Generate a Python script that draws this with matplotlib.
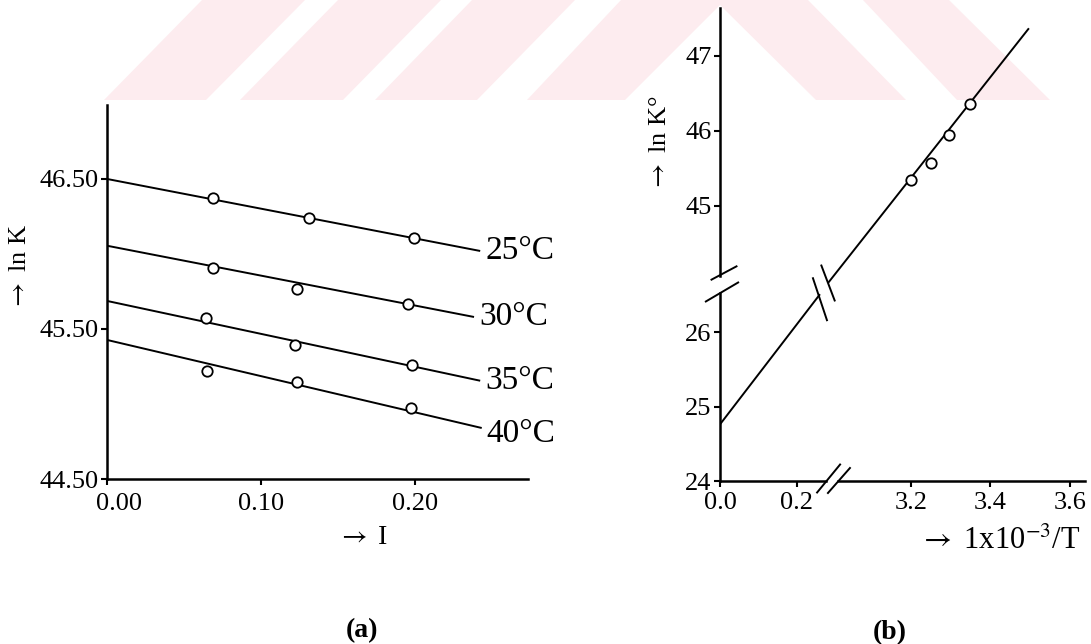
import matplotlib
matplotlib.use("Agg")
import matplotlib.pyplot as plt
import matplotlib.transforms as mtransforms
from matplotlib.patches import Polygon
from matplotlib.lines import Line2D

plt.rcParams['font.family'] = ['Liberation Serif', 'DejaVu Serif']
plt.rcParams['mathtext.fontset'] = 'stix'

# ---------------- data: panel (a) ----------------
temps_labels = ["25°C", "30°C", "35°C", "40°C"]
I_25 = [0.069, 0.131, 0.199]
lnK_25 = [46.37, 46.24, 46.107]
I_30 = [0.069, 0.123, 0.195]
lnK_30 = [45.905, 45.765, 45.667]
I_35 = [0.064, 0.122, 0.198]
lnK_35 = [45.571, 45.393, 45.26]
I_40 = [0.065, 0.123, 0.197]
lnK_40 = [45.222, 45.149, 44.971]
# fitted straight lines (start, end)
fit_I_25 = [0.0, 0.242]
fit_lnK_25 = [46.50, 46.02]
fit_I_30 = [0.0, 0.238]
fit_lnK_30 = [46.055, 45.58]
fit_I_35 = [0.0, 0.242]
fit_lnK_35 = [45.687, 45.155]
fit_I_40 = [0.0, 0.243]
fit_lnK_40 = [45.427, 44.84]
a_xticks = [0.0, 0.10, 0.20]
a_xticklabels = ["0.00", "0.10", "0.20"]
a_yticks = [44.50, 45.50, 46.50]
a_yticklabels = ["44.50", "45.50", "46.50"]

# ---------------- data: panel (b) ----------------
invT = [3.20, 3.25, 3.296, 3.348]
lnK0 = [45.343, 45.573, 45.943, 46.365]
line_low_x = [0.0, 0.261]
line_low_y = [24.76, 26.507]
line_up_x = [2.991, 3.497]
line_up_y = [43.967, 47.37]
b_low_xticks = [0.0, 0.2]
b_low_xticklabels = ["0.0", "0.2"]
b_low_yticks = [24, 25, 26]
b_up_xticks = [3.2, 3.4, 3.6]
b_up_xticklabels = ["3.2", "3.4", "3.6"]
b_up_yticks = [45, 46, 47]

W, H = 1091, 644
fig = plt.figure(figsize=(W / 100, H / 100), dpi=100)
fig.patch.set_facecolor('white')

def px_rect(x0, y_top, x1, y_bot):
    return [x0 / W, 1 - y_bot / H, (x1 - x0) / W, (y_bot - y_top) / H]

# ---------------- watermark (decoration) ----------------
wm_color = '#fdecef'
wm_shapes = [
    [(104, 100), (206, 100), (305, 0), (202, 0)],
    [(240, 100), (343, 100), (441, 0), (338, 0)],
    [(375, 100), (477, 100), (575, 0), (472, 0)],
    [(527, 100), (621, 0), (808, 0), (906, 100), (816, 100), (720, 5), (625, 100)],
    [(863, 0), (949, 0), (1050, 100), (957, 100)],
]
for shp in wm_shapes:
    fig.add_artist(Polygon([(x / W, 1 - y / H) for x, y in shp], closed=True,
                           transform=fig.transFigure, facecolor=wm_color,
                           edgecolor='none', zorder=-5))

SPINE_LW = 1.8
LINE_LW = 1.4
TICK_KW = dict(direction='out', length=4, width=1.5, color='black')

# ---------------- panel (a) ----------------
ax = fig.add_axes(px_rect(107, 105, 528, 479))
ax.set_facecolor('none')
series = [
    (I_25, lnK_25, fit_I_25, fit_lnK_25, temps_labels[0], 0),
    (I_30, lnK_30, fit_I_30, fit_lnK_30, temps_labels[1], 0),
    (I_35, lnK_35, fit_I_35, fit_lnK_35, temps_labels[2], 0),
    (I_40, lnK_40, fit_I_40, fit_lnK_40, temps_labels[3], -6),
]
for xs, ys, fx, fy, lab, dy in series:
    ax.plot(fx, fy, color='black', lw=LINE_LW, zorder=2, solid_capstyle='butt')
    ax.plot(xs, ys, linestyle='none', marker='o', markersize=7.5,
            markerfacecolor='white', markeredgecolor='black', markeredgewidth=1.3, zorder=3)
    ax.annotate(lab, xy=(fx[-1], fy[-1]), xytext=(5, dy), textcoords='offset pixels',
                ha='left', va='center', fontsize=24, annotation_clip=False)
ax.set_xlim(0, 0.273)
ax.set_ylim(44.50, 46.993)
ax.set_xticks(a_xticks)
ax.set_xticklabels(a_xticklabels)
ax.set_yticks(a_yticks)
ax.set_yticklabels(a_yticklabels)
ax.tick_params(axis='both', labelsize=19, **TICK_KW)
ax.tick_params(axis='x', pad=6)
ax.tick_params(axis='y', pad=2)
first = ax.get_xticklabels()[0]
first.set_transform(first.get_transform() + mtransforms.ScaledTranslation(0.12, 0, fig.dpi_scale_trans))
for s in ['top', 'right']:
    ax.spines[s].set_visible(False)
for s in ['left', 'bottom']:
    ax.spines[s].set_linewidth(SPINE_LW)
fig.text(20 / W, 1 - 267 / H, r"$\rightarrow$ ln K", rotation=90, ha='center', va='center', fontsize=19)
fig.text(362 / W, 1 - 538 / H, r"$\rightarrow$ I", ha='center', va='center', fontsize=20)
fig.text(362 / W, 1 - 631 / H, "(a)", ha='center', va='center', fontsize=20, fontweight='bold')

# ---------------- panel (b) ----------------
rect_b = px_rect(720, 8, 1085, 481)
axl = fig.add_axes(rect_b, label='lower')
axu = fig.add_axes(rect_b, label='upper')
for a in (axl, axu):
    a.set_facecolor('none')
    for s in ['top', 'right']:
        a.spines[s].set_visible(False)
    for s in ['left', 'bottom']:
        a.spines[s].set_linewidth(SPINE_LW)
    a.tick_params(axis='both', labelsize=19, **TICK_KW)
    a.tick_params(axis='x', pad=4)
    a.tick_params(axis='y', pad=2)

axl.set_xlim(0, 0.953)
axl.set_ylim(24, 30.349)
axl.set_xticks(b_low_xticks)
axl.set_xticklabels(b_low_xticklabels)
axl.set_yticks(b_low_yticks)
axl.spines['left'].set_bounds(24, 26.517)
axl.spines['bottom'].set_bounds(0, 0.277)
axl.plot(line_low_x, line_low_y, color='black', lw=LINE_LW, solid_capstyle='butt')

axu.set_xlim(2.7189, 3.6383)
axu.set_ylim(41.322, 47.641)
axu.set_xticks(b_up_xticks)
axu.set_xticklabels(b_up_xticklabels)
axu.set_yticks(b_up_yticks)
axu.spines['left'].set_bounds(44.066, 47.641)
axu.spines['bottom'].set_bounds(3.016, 3.6383)
axu.plot(line_up_x, line_up_y, color='black', lw=LINE_LW, solid_capstyle='butt', zorder=2)
axu.plot(invT, lnK0, linestyle='none', marker='o', markersize=7.5,
         markerfacecolor='white', markeredgecolor='black', markeredgewidth=1.3, zorder=3)

def brk(a, x, y, off, half, kind='data'):
    if kind == 'data':
        base = a.transData
    else:
        base = mtransforms.blended_transform_factory(a.transAxes, a.transData)
    tr = fig.dpi_scale_trans + mtransforms.ScaledTranslation(x, y, base)
    cx, cy = off[0] / 100, off[1] / 100
    hx, hy = half[0] / 100, half[1] / 100
    fig.add_artist(Line2D([cx - hx, cx + hx], [cy - hy, cy + hy], transform=tr,
                          color='black', lw=LINE_LW, clip_on=False))

# y-axis break
brk(axu, 0, 44.066, (4, 2.6), (12.5, 6.65), 'yspine')
brk(axl, 0, 26.517, (2, 1.5), (16.15, 9.5), 'yspine')
# x-axis break
brk(axl, 0.277, 24, (2.5, 2.5), (11.5, 14))
brk(axu, 3.016, 41.322, (1, 0.5), (11, 12.5))
# line break
brk(axl, line_low_x[-1], line_low_y[-1], (0, -5), (7, -21))
brk(axu, line_up_x[0], line_up_y[0], (0, 0), (6.65, -17.5))

fig.text(660 / W, 1 - 143 / H, r"$\rightarrow$ ln K°", rotation=90, ha='center', va='center', fontsize=19)
fig.text(1000 / W, 1 - 541 / H, r"$\rightarrow$ 1x10$^{-3}$/T", ha='center', va='center', fontsize=22)
fig.text(890 / W, 1 - 633 / H, "(b)", ha='center', va='center', fontsize=20, fontweight='bold')

fig.savefig("out.png", dpi=100, facecolor='white')
